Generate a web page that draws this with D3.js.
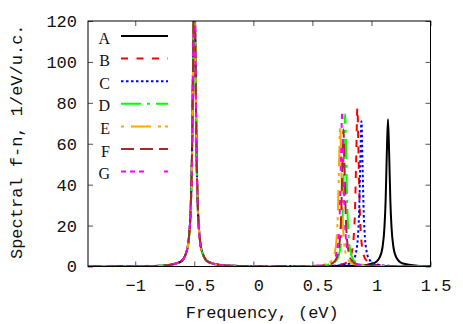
<!DOCTYPE html>
<html>
<head>
<meta charset="utf-8">
<script src="https://cdn.jsdelivr.net/npm/d3@7"></script>
<style>
  body { margin: 0; background: #fff; }
  svg { display: block; }
  text { white-space: pre; }
</style>
</head>
<body>
<svg width="463" height="324"></svg>
<script>
// series names / colours / dash patterns
var names = ["A", "B", "C", "D", "E", "F", "G"];
var colors = ["#000000", "#ff0000", "#0000ff", "#00ff00", "#ffa500", "#a52a2a", "#ff00ff"];

// spectral function samples, [frequency (eV), value]
var seriesA = [[-1.4,0.05],[-0.9,0.2],[-0.75,0.5],[-0.62,2.2],[-0.57,6.4],[-0.545,14.5],[-0.53,29],[-0.52,52],[-0.51,100],[-0.5,145],[-0.49,100],[-0.48,52],[-0.47,29],[-0.455,14.5],[-0.43,6.4],[-0.38,2.2],[-0.25,0.5],[0,0.2],[0.5,0.2],[0.89,0.4],[1.02,1.6],[1.07,4.5],[1.095,9.9],[1.11,19.1],[1.12,32.2],[1.13,55],[1.14,72],[1.15,55],[1.16,32.2],[1.17,19.1],[1.185,9.9],[1.21,4.5],[1.26,1.6],[1.39,0.4],[1.5,0.2]];
var seriesB = [[-1.4,0.05],[-0.9,0.2],[-0.75,0.5],[-0.62,2.2],[-0.57,6.3],[-0.545,14.3],[-0.53,28.6],[-0.52,51],[-0.51,99],[-0.5,143],[-0.49,99],[-0.48,51],[-0.47,28.6],[-0.455,14.3],[-0.43,6.3],[-0.38,2.2],[-0.25,0.5],[0,0.2],[0.63,0.3],[0.761,1.2],[0.811,3.4],[0.836,7.75],[0.851,15.5],[0.861,27.9],[0.871,53.6],[0.881,77.5],[0.891,53.6],[0.901,27.9],[0.911,15.5],[0.926,7.75],[0.951,3.4],[1.001,1.2],[1.13,0.3],[1.5,0.1]];
var seriesC = [[-1.4,0.05],[-0.9,0.2],[-0.75,0.5],[-0.62,2.2],[-0.57,6.5],[-0.545,14.6],[-0.53,29.3],[-0.52,53],[-0.51,101],[-0.5,147],[-0.49,101],[-0.48,53],[-0.47,29.3],[-0.455,14.6],[-0.43,6.5],[-0.38,2.2],[-0.25,0.5],[0,0.2],[0.66,0.3],[0.795,1.1],[0.845,3.1],[0.87,7.1],[0.885,14.2],[0.895,25.6],[0.905,49.1],[0.915,71],[0.925,49.1],[0.935,25.6],[0.945,14.2],[0.96,7.1],[0.985,3.1],[1.035,1.1],[1.165,0.3],[1.5,0.1]];
var seriesD = [[-1.4,0.05],[-0.9,0.2],[-0.75,0.5],[-0.62,2.2],[-0.57,6.4],[-0.545,14.4],[-0.53,28.8],[-0.52,52],[-0.51,100],[-0.5,144],[-0.49,100],[-0.48,52],[-0.47,28.8],[-0.455,14.4],[-0.43,6.4],[-0.38,2.2],[-0.25,0.5],[0,0.2],[0.527,0.3],[0.657,1.1],[0.707,3.3],[0.732,7.5],[0.747,14.9],[0.757,26.9],[0.767,51.6],[0.777,74.6],[0.787,51.6],[0.797,26.9],[0.807,14.9],[0.822,7.5],[0.847,3.3],[0.897,1.1],[1.03,0.3],[1.5,0.1]];
var seriesE = [[-1.4,0.05],[-0.9,0.2],[-0.75,0.5],[-0.62,2.2],[-0.57,6.3],[-0.545,14.2],[-0.53,28.4],[-0.52,51],[-0.51,98],[-0.5,142],[-0.49,98],[-0.48,51],[-0.47,28.4],[-0.455,14.2],[-0.43,6.3],[-0.38,2.2],[-0.25,0.5],[0,0.2],[0.485,0.25],[0.615,1.1],[0.665,3.0],[0.69,6.9],[0.705,13.8],[0.715,24.8],[0.725,47.7],[0.735,69],[0.745,47.7],[0.755,24.8],[0.765,13.8],[0.78,6.9],[0.805,3.0],[0.855,1.1],[0.985,0.25],[1.5,0.1]];
var seriesF = [[-1.4,0.05],[-0.9,0.2],[-0.75,0.5],[-0.62,2.2],[-0.57,6.5],[-0.545,14.7],[-0.53,29.4],[-0.52,53],[-0.51,102],[-0.5,148],[-0.49,102],[-0.48,53],[-0.47,29.4],[-0.455,14.7],[-0.43,6.5],[-0.38,2.2],[-0.25,0.5],[0,0.2],[0.513,0.24],[0.643,1.0],[0.693,2.9],[0.718,6.7],[0.733,13.4],[0.743,24.1],[0.753,46.4],[0.763,67],[0.773,46.4],[0.783,24.1],[0.793,13.4],[0.808,6.7],[0.833,2.9],[0.883,1.0],[1.013,0.24],[1.5,0.1]];
var seriesG = [[-1.4,0.05],[-0.9,0.2],[-0.75,0.5],[-0.62,2.2],[-0.57,6.4],[-0.545,14.5],[-0.53,29],[-0.52,52],[-0.51,100],[-0.5,146],[-0.49,100],[-0.48,52],[-0.47,29],[-0.455,14.5],[-0.43,6.4],[-0.38,2.2],[-0.25,0.5],[0,0.2],[0.502,0.3],[0.632,1.2],[0.682,3.3],[0.707,7.6],[0.722,15.1],[0.732,27.2],[0.742,52.2],[0.752,75.5],[0.762,52.2],[0.772,27.2],[0.782,15.1],[0.797,7.6],[0.822,3.3],[0.872,1.2],[1.002,0.3],[1.5,0.1]];

var xTicks = [-1, -0.5, 0, 0.5, 1, 1.5];
var yTicks = [0, 20, 40, 60, 80, 100, 120];

var allSeries = [seriesA, seriesB, seriesC, seriesD, seriesE, seriesF, seriesG];
var dashes = ["none", "7,8.5", "2.5,2.5", "20,6,3,6", "20,7,3,4,3,7", "13,6", "5,4,5,4,5,20"];
var dashOffsets = [0, 0, 0, 0, 34, 0, 0];

var margin = {top: 21, right: 32.5, bottom: 57.5, left: 88},
    width = 463 - margin.left - margin.right,
    height = 324 - margin.top - margin.bottom;

var x = d3.scaleLinear().domain([-1.4, 1.5]).range([0, width]);
var y = d3.scaleLinear().domain([0, 120]).range([height, 0]);

var svg = d3.select("svg")
  .append("g")
    .attr("transform", "translate(" + margin.left + "," + margin.top + ")");

svg.append("defs").append("clipPath")
    .attr("id", "clip")
  .append("rect")
    .attr("width", width)
    .attr("height", height);

var monoFont = "'Liberation Mono', 'DejaVu Sans Mono', monospace";
var fmt = function(d) { return d < 0 ? "\u2212" + Math.abs(d) : " " + d; };

// x axis: ticks inside, mirrored on top
var xAxis = d3.axisBottom(x).tickValues(xTicks).tickSizeInner(-5).tickSizeOuter(0).tickPadding(12).tickFormat(fmt);
var gx = svg.append("g")
    .attr("transform", "translate(0," + height + ")")
    .call(xAxis);
gx.select(".domain").remove();

var xTop = d3.axisTop(x).tickValues(xTicks).tickSizeInner(-5).tickSizeOuter(0).tickFormat("");
var gxt = svg.append("g").call(xTop);
gxt.select(".domain").remove();

// y axis
var yAxis = d3.axisLeft(y).tickValues(yTicks).tickSizeInner(-5).tickSizeOuter(0).tickPadding(11);
var gy = svg.append("g").call(yAxis);
gy.select(".domain").remove();

var yRight = d3.axisRight(y).tickValues(yTicks).tickSizeInner(-5).tickSizeOuter(0).tickFormat("");
var gyr = svg.append("g").attr("transform", "translate(" + width + ",0)").call(yRight);
gyr.select(".domain").remove();

svg.selectAll(".tick line").attr("stroke", "#555");
svg.selectAll(".tick text")
    .style("font-family", monoFont)
    .style("font-size", "17px")
    .attr("fill", "#111");

// the lines
var line = d3.line()
    .x(function(d) { return x(d[0]); })
    .y(function(d) { return y(d[1]); })
    .curve(d3.curveMonotoneX);

var plot = svg.append("g").attr("clip-path", "url(#clip)");
allSeries.forEach(function(s, i) {
  plot.append("path")
      .attr("d", line(s))
      .attr("fill", "none")
      .attr("stroke", colors[i])
      .attr("stroke-width", 2)
      .attr("stroke-dasharray", dashes[i])
      .attr("stroke-dashoffset", dashOffsets[i]);
});

// frame
svg.append("rect")
    .attr("width", width)
    .attr("height", height)
    .attr("fill", "none")
    .attr("stroke", "#000")
    .attr("stroke-width", 1);

// legend
var legend = svg.append("g");
names.forEach(function(n, i) {
  var yy = 22.5 + i * 22.6;
  legend.append("text")
      .attr("x", 22)
      .attr("y", yy)
      .attr("text-anchor", "end")
      .style("font-family", "'Liberation Serif', 'DejaVu Serif', serif")
      .style("font-size", "16px")
      .attr("fill", "#111")
      .text(n);
  legend.append("line")
      .attr("x1", 33).attr("x2", 80)
      .attr("y1", yy - 7.5).attr("y2", yy - 7.5)
      .attr("stroke", colors[i])
      .attr("stroke-width", 2)
      .attr("stroke-dasharray", dashes[i])
      .attr("stroke-dashoffset", dashOffsets[i]);
});

// axis labels
svg.append("text")
    .attr("x", width / 2 + 3)
    .attr("y", height + 51)
    .style("text-anchor", "middle")
    .style("font-family", monoFont)
    .style("font-size", "17px")
    .attr("fill", "#111")
    .text("Frequency, (eV)");

svg.append("text")
    .attr("transform", "rotate(-90)")
    .attr("x", -(height / 2) + 2)
    .attr("y", -margin.left + 22)
    .style("text-anchor", "middle")
    .style("font-family", monoFont)
    .style("font-size", "17px")
    .attr("fill", "#111")
    .text("Spectral f-n, 1/eV/u.c.");
</script>
</body>
</html>
